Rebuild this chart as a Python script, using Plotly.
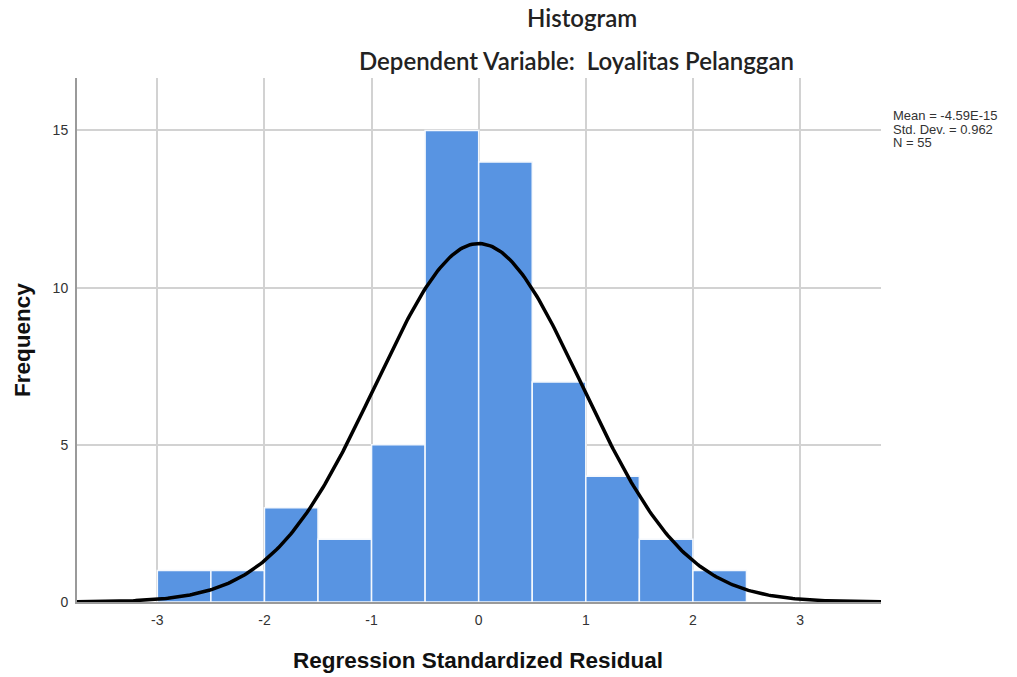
import numpy as np
import plotly.graph_objects as go

# histogram bins (lower edges) and counts
bin_edges = [-3.0, -2.5, -2.0, -1.5, -1.0, -0.5, 0.0, 0.5, 1.0, 1.5, 2.0]
counts = [1, 1, 3, 2, 5, 15, 14, 7, 4, 2, 1]
bin_width = 0.5

# summary statistics shown in the chart
mean_val = -4.59e-15
std_val = 0.962
n_val = 55
stats_lines = ["Mean = -4.59E-15", "Std. Dev. = 0.962", "N = 55"]

x_ticks = [-3, -2, -1, 0, 1, 2, 3]
y_ticks = [0, 5, 10, 15]

centers = [e + bin_width / 2 for e in bin_edges]

# normal curve scaled to the histogram
xs = np.linspace(-3.75, 3.76, 400)
ys = n_val * bin_width / (std_val * np.sqrt(2 * np.pi)) * np.exp(-0.5 * ((xs - mean_val) / std_val) ** 2)

W, H = 1017, 677
L, R, T, B = 77, 136, 78, 75
pw, ph = W - L - R, H - T - B


def px_x(x):
    return (x - L) / pw


def px_y(y):
    return 1 - (y - T) / ph


fig = go.Figure()
fig.add_trace(go.Bar(
    x=centers, y=counts, width=bin_width,
    marker=dict(color="#5894E2", line=dict(color="#F4F8FD", width=1.5)),
    hoverinfo="x+y"
))
fig.add_trace(go.Scatter(
    x=xs, y=ys, mode="lines",
    line=dict(color="black", width=3.5), hoverinfo="skip"
))

title_font = dict(family="Lato, Open Sans, Arial", size=24, color="#222222", weight=600)
axis_font = dict(family="Arial, Liberation Sans", size=22.5, color="#111111")

annots = [
    dict(text="Histogram", x=px_x(582), y=px_y(18), font=title_font),
    dict(text="Dependent Variable:  Loyalitas Pelanggan", x=px_x(576), y=px_y(60), font=title_font),
    dict(text="<b>Regression Standardized Residual</b>", x=px_x(478), y=px_y(660), font=axis_font),
    dict(text="<b>Frequency</b>", x=px_x(22), y=px_y(340), textangle=-90, font=axis_font),
]
for i, line in enumerate(stats_lines):
    annots.append(dict(text=line, x=px_x(891), y=px_y(116 + 13.5 * i), xanchor="left",
                       font=dict(family="Arial, Liberation Sans", size=13, color="#333333")))
for a in annots:
    a.update(xref="paper", yref="paper", showarrow=False)
    a.setdefault("xanchor", "center")
    a["yanchor"] = "middle"

fig.update_layout(
    width=W, height=H,
    paper_bgcolor="white", plot_bgcolor="white",
    showlegend=False,
    margin=dict(l=L, r=R, t=T, b=B),
    font=dict(family="Arial, Liberation Sans", color="#333333"),
    annotations=annots,
)

fig.update_xaxes(
    range=[-3.75, 3.756], tickvals=x_ticks, ticktext=[str(v) for v in x_ticks],
    showgrid=True, gridcolor="#D2D2D2", gridwidth=1.5,
    zeroline=False, showline=True, linecolor="#9A9A9A", linewidth=2,
    ticks="outside", ticklen=4, tickcolor="rgba(0,0,0,0)",
    tickfont=dict(size=14, color="#333333"), automargin=False,
)
fig.update_yaxes(
    range=[0, 16.67], tickvals=y_ticks,
    showgrid=True, gridcolor="#D2D2D2", gridwidth=1.5,
    zeroline=False, showline=True, linecolor="#9A9A9A", linewidth=2,
    ticks="outside", ticklen=4, tickcolor="rgba(0,0,0,0)",
    tickfont=dict(size=14, color="#333333"), automargin=False,
)

# drop the default page margin so the figure sits at the window's top-left corner
fig.write_html("out.html", config={"displayModeBar": False},
               post_script="document.body.style.margin='0';")
